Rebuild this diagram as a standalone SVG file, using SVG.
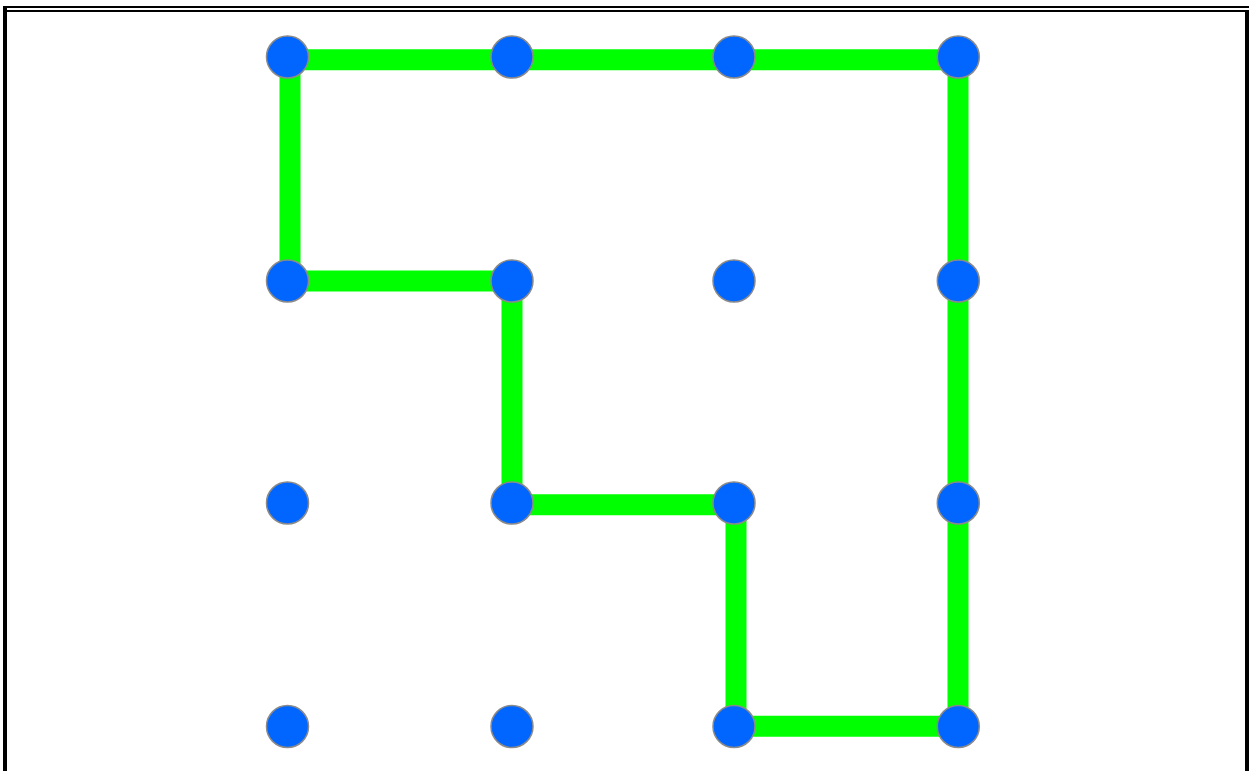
<svg xmlns="http://www.w3.org/2000/svg" width="1249" height="771" viewBox="0 0 1249 771">
<style>
.edge{stroke:#00ff00;stroke-width:21;stroke-linecap:square;fill:none}
.dot{fill:#0066ff;stroke:#8a8a8a;stroke-width:1.5}
.frame{fill:#000}
</style>
<rect width="1249" height="771" fill="#fff"/>
<g id="frame">
<rect class="frame" x="3" y="6" width="1246" height="2"/>
<rect class="frame" x="7" y="10" width="1238" height="2"/>
<rect class="frame" x="3" y="6" width="4" height="765"/>
<rect class="frame" x="1245" y="10" width="4" height="761"/>
</g>
<g id="connectors">
<line class="edge" x1="290" y1="59.7" x2="512" y2="59.7"/>
<line class="edge" x1="512" y1="59.7" x2="736" y2="59.7"/>
<line class="edge" x1="736" y1="59.7" x2="958" y2="59.7"/>
<line class="edge" x1="290" y1="59.7" x2="290" y2="281"/>
<line class="edge" x1="290" y1="281" x2="512" y2="281"/>
<line class="edge" x1="512" y1="281" x2="512" y2="504.7"/>
<line class="edge" x1="512" y1="504.7" x2="736" y2="504.7"/>
<line class="edge" x1="736" y1="504.7" x2="736" y2="726.3"/>
<line class="edge" x1="736" y1="726.3" x2="958" y2="726.3"/>
<line class="edge" x1="958" y1="726.3" x2="958" y2="504.7"/>
<line class="edge" x1="958" y1="504.7" x2="958" y2="281"/>
<line class="edge" x1="958" y1="281" x2="958" y2="59.7"/>
</g>
<g id="n00"><circle class="dot" cx="287.5" cy="57" r="21"/></g>
<g id="n10"><circle class="dot" cx="512" cy="57" r="21"/></g>
<g id="n20"><circle class="dot" cx="734" cy="57" r="21"/></g>
<g id="n30"><circle class="dot" cx="958.3" cy="57" r="21"/></g>
<g id="n01"><circle class="dot" cx="287.5" cy="281" r="21"/></g>
<g id="n11"><circle class="dot" cx="512" cy="281" r="21"/></g>
<g id="n21"><circle class="dot" cx="734" cy="281" r="21"/></g>
<g id="n31"><circle class="dot" cx="958.3" cy="281" r="21"/></g>
<g id="n02"><circle class="dot" cx="287.5" cy="503" r="21"/></g>
<g id="n12"><circle class="dot" cx="512" cy="503" r="21"/></g>
<g id="n22"><circle class="dot" cx="734" cy="503" r="21"/></g>
<g id="n32"><circle class="dot" cx="958.3" cy="503" r="21"/></g>
<g id="n03"><circle class="dot" cx="287.5" cy="726.5" r="21"/></g>
<g id="n13"><circle class="dot" cx="512" cy="726.5" r="21"/></g>
<g id="n23"><circle class="dot" cx="734" cy="726.5" r="21"/></g>
<g id="n33"><circle class="dot" cx="958.3" cy="726.5" r="21"/></g>
</svg>
